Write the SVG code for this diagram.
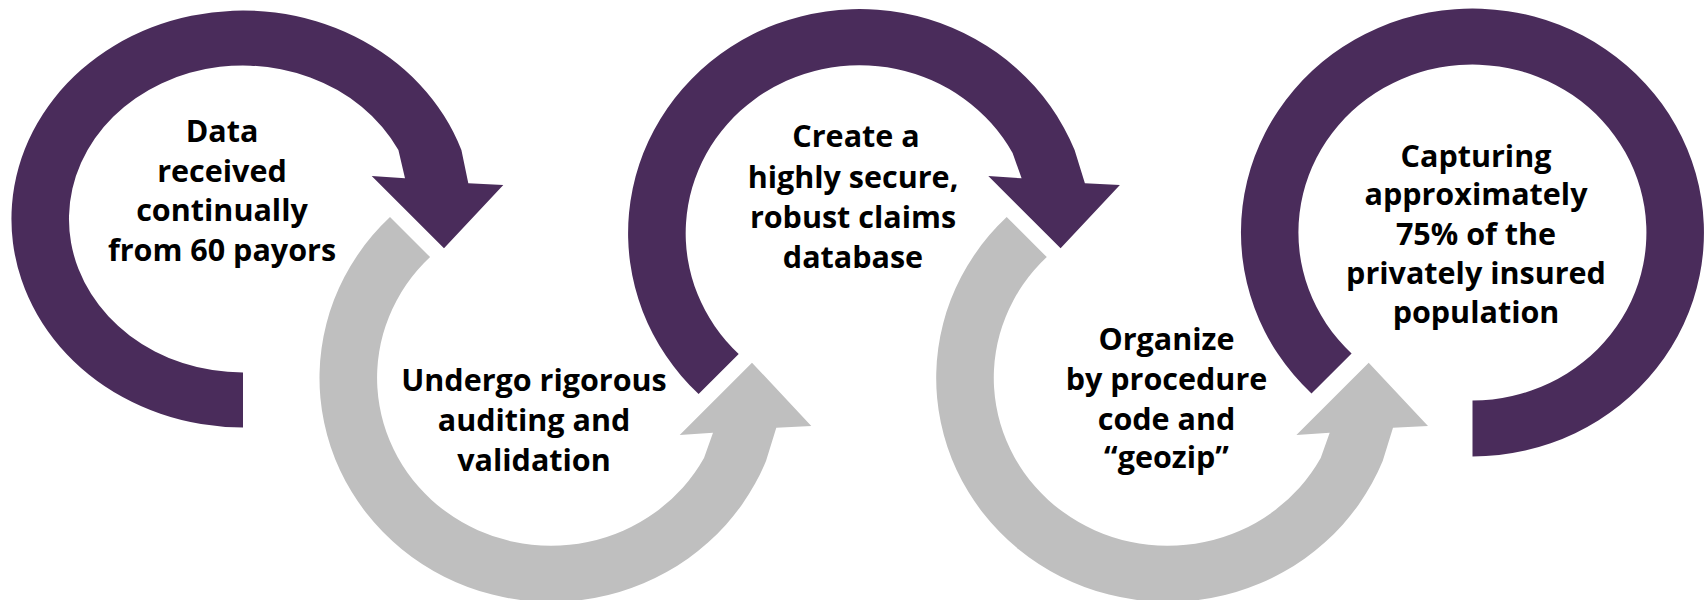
<svg xmlns="http://www.w3.org/2000/svg" width="1708" height="600" viewBox="0 0 1708 600">
  <style>
    .purple { fill: #4A2C5B; }
    .gray { fill: #BFBFBF; }
    .lbl { font-family: "Open Sans", "Liberation Sans", sans-serif; font-weight: 700; font-size: 30.5px; fill: #000000; text-anchor: middle; }
  </style>
  <defs>
    <path id="grayArrow" d="M -161 -161 A 231.5 224 0 1 0 215 83 L 225.3 49.7 L 260.3 48 L 201 -15.3 L 128.7 57 L 162 54.7 L 153 80 A 174 168 0 1 1 -120.9 -120.9 Z"/>
  </defs>
  <rect x="0" y="0" width="1708" height="600" fill="#FFFFFF"/>

  <g id="step1">
    <path class="purple" d="M 243 427.5 A 231.5 208.5 0 1 1 461.4 150 L 468.3 183.3 L 503.3 185 L 444 248.3 L 371.7 176 L 405 178.3 L 398.4 150 A 174 153.5 0 1 0 243 372.5 Z"/>
    <text class="lbl" x="222" y="142">Data</text>
    <text class="lbl" x="222" y="181.5">received</text>
    <text class="lbl" x="222" y="221">continually</text>
    <text class="lbl" x="222" y="260.5">from 60 payors</text>
  </g>

  <g id="step2">
    <use class="gray" href="#grayArrow" transform="translate(551 378)"/>
    <text class="lbl" x="534" y="390.7">Undergo rigorous</text>
    <text class="lbl" x="534" y="430.5">auditing and</text>
    <text class="lbl" x="534" y="471">validation</text>
  </g>

  <g id="step3">
    <path class="purple" transform="translate(859.6 233)" d="M -161 161 A 231.5 224 0 1 1 215 -83 L 225.3 -49.7 L 260.3 -48 L 201 15.3 L 128.7 -57 L 162 -54.7 L 153 -80 A 174 168 0 1 0 -120.9 120.9 Z"/>
    <text class="lbl" x="856" y="146.7">Create a</text>
    <text class="lbl" x="853" y="188.3">highly secure,</text>
    <text class="lbl" x="853" y="228.3">robust claims</text>
    <text class="lbl" x="853" y="268.3">database</text>
  </g>

  <g id="step4">
    <use class="gray" href="#grayArrow" transform="translate(1167.7 378)"/>
    <text class="lbl" x="1166.5" y="350">Organize</text>
    <text class="lbl" x="1166.5" y="390">by procedure</text>
    <text class="lbl" x="1166.5" y="430">code and</text>
    <text class="lbl" x="1166.5" y="468.3">“geozip”</text>
  </g>

  <g id="step5">
    <path class="purple" transform="translate(1472.5 232.5)" d="M -161 161 A 231.5 224 0 1 1 0 224 L 0 168 A 174 168 0 1 0 -120.9 120.9 Z"/>
    <text class="lbl" x="1476" y="166.7">Capturing</text>
    <text class="lbl" x="1476" y="205">approximately</text>
    <text class="lbl" x="1476" y="245">75% of the</text>
    <text class="lbl" x="1476" y="284">privately insured</text>
    <text class="lbl" x="1476" y="323.3">population</text>
  </g>

  <g id="connectors"></g>
</svg>
